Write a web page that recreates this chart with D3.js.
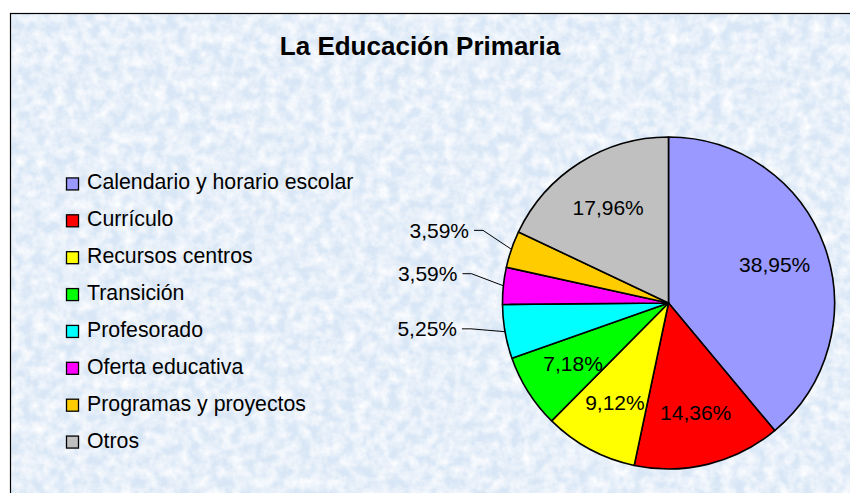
<!DOCTYPE html>
<html>
<head>
<meta charset="utf-8">
<script src="https://cdn.jsdelivr.net/npm/d3@7"></script>
<style>
  html, body { margin: 0; padding: 0; background: #fff; }
  svg { display: block; font-family: "Liberation Sans", Arial, sans-serif; }
</style>
</head>
<body>
<div id="chart"></div>
<script>
// chart data
const title = "La Educación Primaria";
const categories = [
  "Calendario y horario escolar",
  "Currículo",
  "Recursos centros",
  "Transición",
  "Profesorado",
  "Oferta educativa",
  "Programas y proyectos",
  "Otros"
];
const values = [38.95, 14.36, 9.12, 7.18, 5.25, 3.59, 3.59, 17.96];
const colors = ["#9999FF", "#FF0000", "#FFFF00", "#00FF00", "#00FFFF", "#FF00FF", "#FFCC00", "#C0C0C0"];

const width = 850;
const height = 493;
const cx = 668.5, cy = 303, radius = 166;

const svg = d3.select("#chart")
  .append("svg")
  .attr("width", width)
  .attr("height", height);

// textured light blue background
const defs = svg.append("defs");
const filter = defs.append("filter")
  .attr("id", "paper")
  .attr("x", 0).attr("y", 0).attr("width", 1).attr("height", 1);
filter.append("feTurbulence")
  .attr("type", "fractalNoise")
  .attr("baseFrequency", 0.09)
  .attr("numOctaves", 3)
  .attr("seed", 11)
  .attr("result", "noise");
filter.append("feColorMatrix")
  .attr("in", "noise")
  .attr("type", "matrix")
  .attr("values", "0 0 0 0 1  0 0 0 0 1  0 0 0 0 1  0 0 0 -1.6 1.15")
  .attr("result", "speck");
filter.append("feComposite")
  .attr("in", "speck")
  .attr("in2", "SourceGraphic")
  .attr("operator", "over");

svg.append("rect")
  .attr("x", 10.5).attr("y", 13.5)
  .attr("width", width).attr("height", height)
  .attr("fill", "#d8e6f6")
  .attr("filter", "url(#paper)");

svg.append("rect")
  .attr("x", 10.5).attr("y", 13.5)
  .attr("width", width).attr("height", height)
  .attr("fill", "none")
  .attr("stroke", "#000")
  .attr("stroke-width", 1.2);

// title
svg.append("text")
  .attr("x", 420)
  .attr("y", 55)
  .attr("text-anchor", "middle")
  .style("font-size", "26px")
  .style("font-weight", "bold")
  .text(title);

// legend
const legendY = d3.scaleBand()
  .domain(categories)
  .range([165, 460]);

const legend = svg.append("g")
  .selectAll("g")
  .data(categories)
  .join("g")
  .attr("transform", d => `translate(66,${legendY(d) + legendY.bandwidth() / 2})`);

legend.append("rect")
  .attr("x", 0.5).attr("y", -5.5)
  .attr("width", 12).attr("height", 12)
  .attr("fill", (d, i) => colors[i])
  .attr("stroke", "#000")
  .attr("stroke-width", 1.3);

legend.append("text")
  .attr("x", 21)
  .attr("y", 6)
  .style("font-size", "21.3px")
  .text(d => d);

// pie
const fmt = d3.formatLocale({ decimal: ",", thousands: ".", grouping: [3], currency: ["", "€"] }).format(".2f");

const pie = d3.pie().sort(null).value(d => d);
const arcs = pie(values);
const arc = d3.arc().innerRadius(0).outerRadius(radius);

const g = svg.append("g").attr("transform", `translate(${cx},${cy})`);

g.selectAll("path")
  .data(arcs)
  .join("path")
  .attr("d", arc)
  .attr("fill", (d, i) => colors[i])
  .attr("stroke", "#000")
  .attr("stroke-width", 1.6)
  .attr("stroke-linejoin", "round");

const inside = arcs.filter(d => d.data >= 6);
const outside = arcs.filter(d => d.data < 6);

const labelArc = d3.arc().innerRadius(radius * 0.68).outerRadius(radius * 0.68);

g.selectAll("text.inside")
  .data(inside)
  .join("text")
  .attr("class", "inside")
  .attr("transform", d => `translate(${labelArc.centroid(d)})`)
  .attr("text-anchor", "middle")
  .attr("dy", "0.35em")
  .style("font-size", "21px")
  .text(d => fmt(d.data) + "%");

// outside labels with leader lines
const polar = (a, r) => [r * Math.sin(a), -r * Math.cos(a)];
const tilt = 2.5 * Math.PI / 180;

outside.forEach(d => {
  const mid = (d.startAngle + d.endAngle) / 2;
  const edge = polar(mid, radius);
  const knee = polar(mid + tilt, radius * 1.2);
  const end = [knee[0] - 9, knee[1]];
  g.append("polyline")
    .attr("points", [edge, knee, end].map(p => p.join(",")).join(" "))
    .attr("fill", "none")
    .attr("stroke", "#000")
    .attr("stroke-width", 1);
  g.append("text")
    .attr("x", end[0] - 5)
    .attr("y", end[1])
    .attr("dy", "0.35em")
    .attr("text-anchor", "end")
    .style("font-size", "21px")
    .text(fmt(d.data) + "%");
});
</script>
</body>
</html>
